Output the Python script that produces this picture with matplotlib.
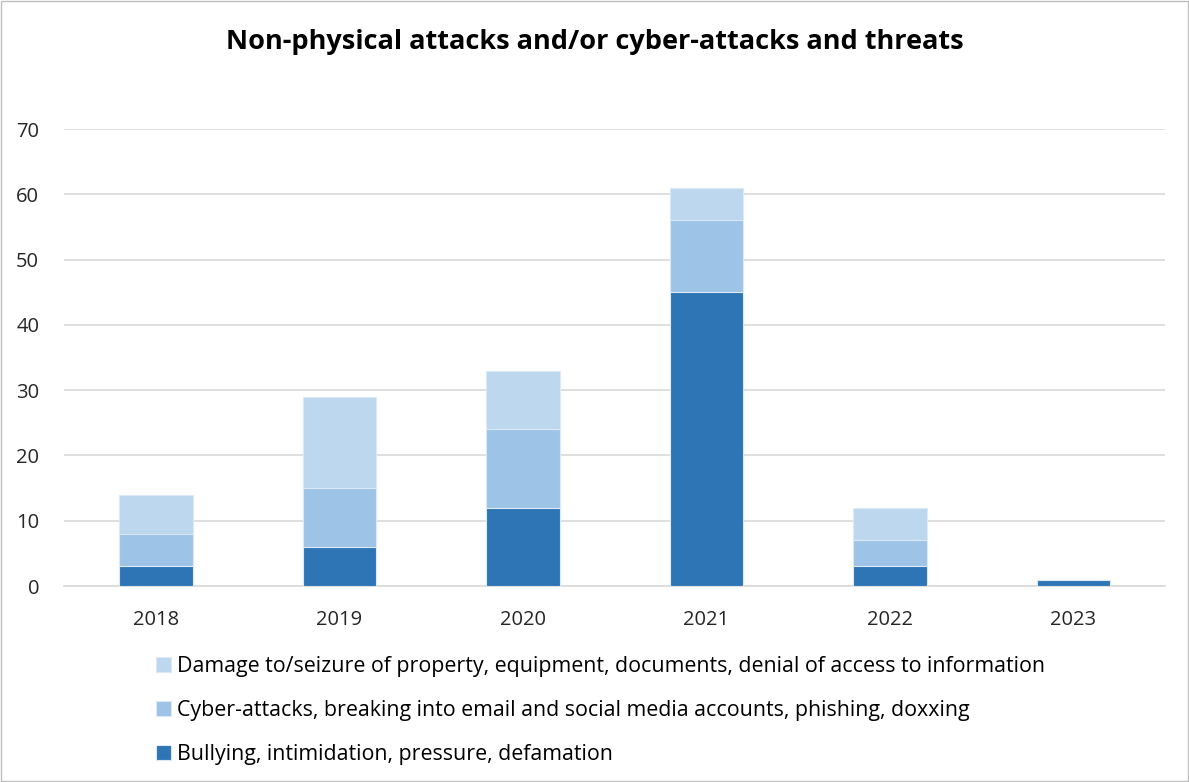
import numpy as np
import matplotlib.pyplot as plt
from matplotlib.patches import Rectangle

years = ['2018', '2019', '2020', '2021', '2022', '2023']
bullying = [3, 6, 12, 45, 3, 1]
cyber = [5, 9, 12, 11, 4, 0]
damage = [6, 14, 9, 5, 5, 0]

lab_bully = 'Bullying, intimidation, pressure, defamation'
lab_cyber = 'Cyber-attacks, breaking into email and social media accounts, phishing, doxxing'
lab_damage = 'Damage to/seizure of property, equipment, documents, denial of access to information'

c_dark = '#2E75B6'
c_mid = '#9DC3E6'
c_light = '#BDD7EE'

plt.rcParams['font.family'] = ['Open Sans', 'DejaVu Sans']

fig = plt.figure(figsize=(11.89, 7.82), dpi=100)
ax = fig.add_axes([0.054, 0.2506, 0.926, 0.5844])

x = np.arange(len(years))
w = 0.4
b1 = np.array(bullying)
b2 = b1 + np.array(cyber)
h_d = ax.bar(x, damage, w, bottom=b2, color=c_light, edgecolor='#DCE9F6', linewidth=0.8, label=lab_damage, zorder=3)
h_c = ax.bar(x, cyber, w, bottom=b1, color=c_mid, edgecolor='#DCE9F6', linewidth=0.8, label=lab_cyber, zorder=3)
h_b = ax.bar(x, bullying, w, color=c_dark, edgecolor='#DCE9F6', linewidth=0.8, label=lab_bully, zorder=3)

ax.set_xlim(-0.5, 5.5)
ax.set_ylim(0, 70)
ax.set_yticks(range(0, 71, 10))
ax.set_xticks(x)
ax.set_xticklabels(years)
ax.yaxis.grid(True, color='#D9D9D9', linewidth=1.2, zorder=0)
for s in ['top', 'right', 'left']:
    ax.spines[s].set_visible(False)
ax.spines['bottom'].set_color('#D9D9D9')
ax.spines['bottom'].set_linewidth(1.2)
ax.tick_params(axis='both', length=0, labelsize=14.5, colors='#262626')
ax.tick_params(axis='x', pad=17)
ax.tick_params(axis='y', pad=18)

fig.text(0.5, 0.946, 'Non-physical attacks and/or cyber-attacks and threats',
         ha='center', va='center', fontsize=19.5, fontweight='bold', color='black')

fig.legend(handles=[h_d, h_c, h_b], loc='upper left', bbox_to_anchor=(0.131, 0.161),
           frameon=False, fontsize=15.4, labelspacing=1.08, handlelength=0.7,
           handleheight=0.7, handletextpad=0.3, borderaxespad=0, borderpad=0)

fig.patches.append(Rectangle((0.001, 0.001), 0.998, 0.998, transform=fig.transFigure,
                             fill=False, edgecolor='#BFBFBF', linewidth=1))

fig.savefig('out.png', dpi=100)
